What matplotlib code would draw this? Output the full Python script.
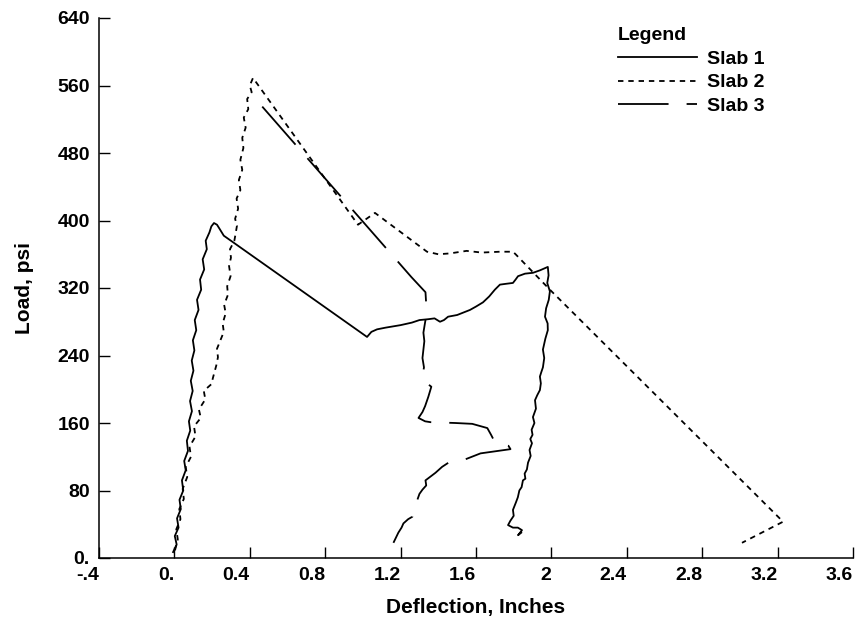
'''
Load vs deflection curves for three slabs.
'''

import matplotlib as mpl
mpl.use('Agg')
from matplotlib import pyplot as plt

mpl.rcParams['font.family'] = ['Liberation Sans', 'DejaVu Sans']
mpl.rcParams['font.weight'] = 'bold'
mpl.rcParams['axes.labelweight'] = 'bold'


#(0) Data (deflection, inches / load, psi):
slab1_x = [-0.007, 0.012, 0.002, 0.022, 0.014, 0.034, 0.027, 0.047, 0.040, 0.060, 0.052, 0.072,
           0.066, 0.084, 0.077, 0.093, 0.083, 0.097, 0.087, 0.101, 0.092, 0.106, 0.098, 0.116,
           0.108, 0.128, 0.120, 0.142, 0.136, 0.158, 0.150, 0.172, 0.166, 0.186, 0.196, 0.210,
           0.226, 0.240, 0.262,
           1.022, 1.045, 1.075, 1.12, 1.2, 1.26, 1.30, 1.346, 1.38, 1.409, 1.43, 1.452, 1.50,
           1.568, 1.60, 1.637, 1.67, 1.70, 1.727, 1.76, 1.796, 1.81, 1.823, 1.86, 1.902, 1.94, 1.981,
           1.985, 1.978, 1.992, 1.986, 1.972, 1.966, 1.980, 1.981, 1.968, 1.955, 1.962, 1.955,
           1.946, 1.939, 1.944, 1.939, 1.925, 1.913, 1.918, 1.902, 1.910, 1.895, 1.900, 1.888,
           1.897, 1.884, 1.890, 1.876, 1.870, 1.858, 1.862, 1.849, 1.842, 1.830, 1.822, 1.812,
           1.796, 1.800, 1.782, 1.770, 1.796, 1.822, 1.844, 1.823, 1.840]
slab1_y = [7, 16, 26, 36, 47, 58, 69, 80, 92, 104, 115, 127,
           139, 151, 162, 174, 186, 198, 210, 222, 234, 246, 258, 270,
           282, 294, 306, 318, 330, 342, 354, 366, 376, 386, 393, 397,
           395, 390, 382,
           262, 268, 271, 273, 276, 279, 282, 283, 284, 280, 282, 286, 288,
           294, 298, 303, 310, 318, 324, 325, 326, 330, 334, 337, 338, 341, 345,
           335, 326, 316, 306, 296, 286, 278, 270, 260, 247, 237, 226,
           220, 215, 207, 199, 193, 187, 177, 167, 160, 152, 146, 141,
           136, 128, 121, 113, 105, 100, 94, 92, 84, 80, 72, 66,
           57, 50, 44, 39, 36, 36, 33, 27, 30]

slab2_x = [0.003, 0.018, 0.010, 0.032, 0.026, 0.050, 0.044, 0.068, 0.060, 0.088, 0.080, 0.112,
           0.104, 0.140, 0.130, 0.164, 0.156, 0.196, 0.205, 0.222, 0.231, 0.226, 0.244, 0.262,
           0.256, 0.272, 0.264, 0.284, 0.280, 0.298, 0.290, 0.300, 0.295, 0.318, 0.326, 0.332,
           0.322, 0.338, 0.330, 0.350, 0.342, 0.360, 0.350, 0.366, 0.360, 0.378, 0.368, 0.392,
           0.386, 0.410, 0.400, 0.417,
           0.974, 1.064, 1.340, 1.40, 1.462, 1.55, 1.63, 1.727, 1.796, 1.81, 1.992, 3.229, 3.011]
slab2_y = [9, 22, 34, 46, 58, 70, 82, 96, 108, 120, 132, 144,
           156, 166, 176, 188, 198, 206, 214, 228, 238, 248, 258, 268,
           278, 290, 300, 312, 322, 334, 346, 356, 366, 376, 386, 394,
           402, 414, 426, 436, 448, 460, 472, 486, 498, 510, 522, 532,
           544, 552, 560, 569,
           395, 409, 363, 360, 361, 364, 362, 363, 363, 360, 318, 43, 18]

slab3_x = [0.466, 1.257, 1.332, 1.336, 1.330, 1.332, 1.326, 1.321, 1.326, 1.321, 1.316, 1.324,
           1.318, 1.321, 1.340, 1.363, 1.347, 1.330, 1.316, 1.295, 1.330, 1.358, 1.490, 1.580,
           1.660, 1.680, 1.703, 1.772, 1.783, 1.624, 1.544, 1.454, 1.420, 1.385, 1.332, 1.336,
           1.316, 1.300, 1.289, 1.276, 1.268, 1.263, 1.240, 1.215, 1.205, 1.188, 1.175, 1.162]
slab3_y = [535, 333, 315, 300, 290, 282, 274, 267, 257, 247, 237, 226,
           218, 211, 207, 203, 191, 180, 173, 166, 162, 161, 160, 159,
           154, 146, 136, 133, 129, 124, 117, 113, 108, 101, 92, 86,
           81, 76, 69, 64, 57, 49, 46, 41, 36, 30, 24, 18]

labels      = ['Slab 1', 'Slab 2', 'Slab 3']
xticks      = [-0.4, 0.0, 0.4, 0.8, 1.2, 1.6, 2.0, 2.4, 2.8, 3.2, 3.6]
xticklabels = ['-.4', '0.', '0.4', '0.8', '1.2', '1.6', '2', '2.4', '2.8', '3.2', '3.6']
yticks      = [0, 80, 160, 240, 320, 400, 480, 560, 640]
yticklabels = ['0.', '80', '160', '240', '320', '400', '480', '560', '640']


#(1) Plot:
fig = plt.figure(figsize=(8.61, 6.33), dpi=100)
ax  = fig.add_axes([99/861, 75/633, 754/861, 540/633])

lss = ['-', (0, (3, 2.7)), (0, (28, 10))]
for x, y, ls, lab in zip([slab1_x, slab2_x, slab3_x], [slab1_y, slab2_y, slab3_y], lss, labels):
    ax.plot(x, y, color='k', lw=1.3, ls=ls, label=lab)

ax.set_xlim(-0.4, 3.6)
ax.set_ylim(0, 640)
ax.set_xticks(xticks)
ax.set_xticklabels(xticklabels, ha='right')
ax.set_yticks(yticks)
ax.set_yticklabels(yticklabels)
ax.tick_params(direction='in', length=8, width=1, pad=6.5, labelsize=14)
for side in ['top', 'right']:
    ax.spines[side].set_visible(False)
for side in ['left', 'bottom']:
    ax.spines[side].set_linewidth(1.1)

ax.set_xlabel('Deflection, Inches', fontsize=15, labelpad=10)
ax.set_ylabel('Load, psi', fontsize=15, labelpad=17)

ax.legend(title='Legend', frameon=False, loc='upper left',
          bbox_to_anchor=(607/861, 1 - 16/633), bbox_transform=fig.transFigure,
          handlelength=4.07, alignment='left', borderpad=0.55, borderaxespad=0,
          labelspacing=0.32, handletextpad=0.52, fontsize=14, title_fontsize=14)

fig.savefig('out.png', dpi=100)
